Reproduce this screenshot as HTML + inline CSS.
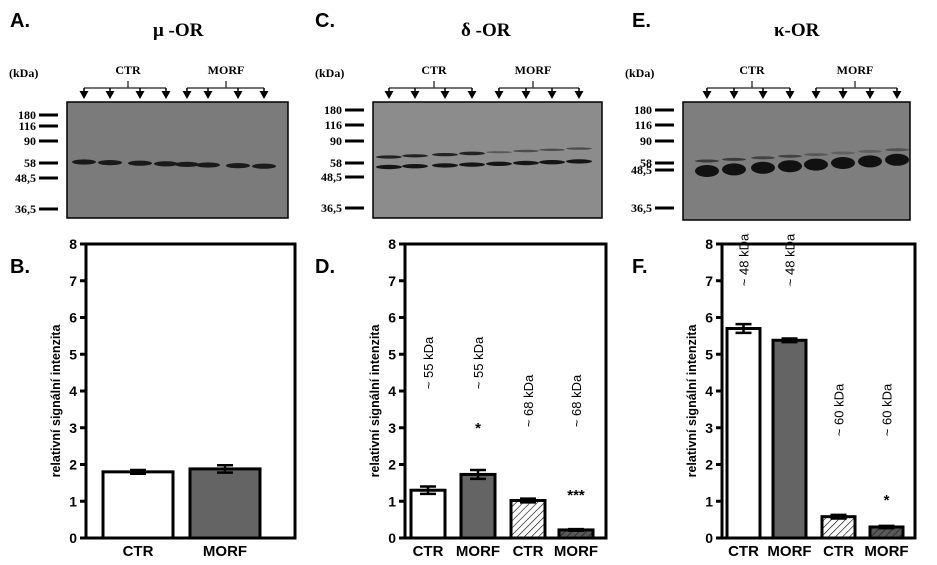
<!DOCTYPE html>
<html><head><meta charset="utf-8"><style>
body{margin:0;background:#fff}
svg{display:block}
text{font-family:"Liberation Sans",sans-serif}
.serif{font-family:"Liberation Serif",serif;font-weight:bold}
</style></head><body>
<svg id="fig" width="937" height="565" viewBox="0 0 937 565">
<defs>
<pattern id="hatchW" patternUnits="userSpaceOnUse" width="5" height="5" patternTransform="rotate(45)"><rect width="5" height="5" fill="#fff"/><line x1="0" y1="0" x2="0" y2="5" stroke="#000" stroke-width="1.2"/></pattern>
<pattern id="hatchG" patternUnits="userSpaceOnUse" width="5" height="5" patternTransform="rotate(45)"><rect width="5" height="5" fill="#5a5a5a"/><line x1="0" y1="0" x2="0" y2="5" stroke="#222" stroke-width="1.5"/></pattern>
</defs>
</svg>
<script>
// Panel B (mu-OR)
const catsB = ["CTR","MORF"];
const valsB = [1.8, 1.88];
const errsB = [0.05, 0.1];
// Panel D (delta-OR)
const catsD = ["CTR","MORF","CTR","MORF"];
const valsD = [1.3, 1.73, 1.02, 0.22];
const errsD = [0.1, 0.12, 0.05, 0.02];
// Panel F (kappa-OR)
const catsF = ["CTR","MORF","CTR","MORF"];
const valsF = [5.7, 5.38, 0.58, 0.3];
const errsF = [0.12, 0.05, 0.05, 0.03];
const yTicks = [0,1,2,3,4,5,6,7,8];
const ladderLabels = ["180","116","90","58","48,5","36,5"];

const NS="http://www.w3.org/2000/svg";
const svg=document.getElementById('fig');
function mk(tag,attrs,parent,txt){const e=document.createElementNS(NS,tag);for(const k in attrs)e.setAttribute(k,attrs[k]);if(txt!==undefined)e.textContent=txt;(parent||svg).appendChild(e);return e;}

function chart(id,x0,x1,barX,barW,cats,vals,errs,fills,annots,stars){
  const y0=538,yTop=244;
  const yS=v=>y0-(v/8)*(y0-yTop);
  const g=mk('g',{});
  
  
  vals.forEach((v,i)=>{
    const b=mk('rect',{x:barX[i],y:yS(v),width:barW,height:y0-yS(v),fill:fills[i],stroke:'#000','stroke-width':3},g);
    
    
    const cx=barX[i]+barW/2;
    const e=mk('path',{d:`M${cx},${yS(v+errs[i])}V${yS(v-errs[i])}M${cx-8},${yS(v+errs[i])}H${cx+8}M${cx-8},${yS(v-errs[i])}H${cx+8}`,stroke:'#000','stroke-width':2.5,fill:'none'},g);
    
    
    const l=mk('text',{x:cx,y:556,'text-anchor':'middle','font-size':15,'font-weight':'bold'},g,cats[i]);
    
    
  });
  const ax=mk('rect',{x:x0,y:yTop,width:x1-x0,height:y0-yTop,fill:'none',stroke:'#000','stroke-width':3},g);
  
  
  yTicks.forEach(t=>{
    mk('line',{x1:x0-6,x2:x0,y1:yS(t),y2:yS(t),stroke:'#000','stroke-width':3},g);
    const tl=mk('text',{x:x0-9,y:yS(t)+5,'text-anchor':'end','font-size':14,'font-weight':'bold'},g,t);
    
    
  });
  const yt=mk('text',{x:0,y:0,transform:`translate(${x0-26},${(y0+yTop)/2+10}) rotate(-90)`,'text-anchor':'middle','font-size':12.5,'font-weight':'bold'},g,'relativní signální intenzita');
  
  
  annots.forEach(a=>{
    const t=mk('text',{transform:`translate(${barX[a[0]]+barW/2+5},${a[1]}) rotate(-90)`,'text-anchor':'middle','font-size':13},g,a[2]);
    
    
  });
  stars.forEach(s=>{
    const t=mk('text',{x:barX[s[0]]+barW/2,y:s[1],'text-anchor':'middle','font-size':15,'font-weight':'bold'},g,s[2]);
    
    
  });
}

function blot(id,bx,by,bw,bh,fill,ladderY,lanes,bandSets,title,titleX,letter,letterX,ctrX,morfX){
  const g=mk('g',{});
  
  
  const L=mk('text',{x:letterX,y:27,'font-size':20,'font-weight':'bold'},g,letter);
  
  
  const T=mk('text',{x:titleX,y:36,'font-size':19,'class':'serif'},g,title);
  
  
  const k=mk('text',{x:bx-58,y:77,'font-size':12,'class':'serif'},g,'(kDa)');
  
  
  mk('text',{x:ctrX,y:74,'text-anchor':'middle','font-size':12,'class':'serif'},g,'CTR');
  mk('text',{x:morfX,y:74,'text-anchor':'middle','font-size':12,'class':'serif'},g,'MORF');
  [[0,4,ctrX],[4,8,morfX]].forEach(([a,b,c])=>{
    mk('path',{d:`M${lanes[a]},88H${lanes[b-1]}M${c},81V88`,stroke:'#444','stroke-width':1.5,fill:'none'},g);
    for(let i=a;i<b;i++){
      mk('line',{x1:lanes[i],x2:lanes[i],y1:88,y2:92,stroke:'#000','stroke-width':1.5},g);
      mk('path',{d:`M${lanes[i]-4.5},91L${lanes[i]+4.5},91L${lanes[i]},99Z`,fill:'#000'},g);
    }
  });
  const r=mk('rect',{x:bx,y:by,width:bw,height:bh,fill:fill,stroke:'#000','stroke-width':1.5},g);
  
  
  ladderLabels.forEach((l,i)=>{
    mk('line',{x1:bx-28,x2:bx-9,y1:ladderY[i],y2:ladderY[i],stroke:'#000','stroke-width':3},g);
    mk('text',{x:bx-31,y:ladderY[i]+4,'text-anchor':'end','font-size':12,'class':'serif'},g,l);
  });
  bandSets.forEach(bs=>{
    lanes.forEach((lx,i)=>{
      const b=mk('ellipse',{cx:lx,cy:bs.y0+bs.dy*i,rx:bs.rx,ry:bs.ry[i]!==undefined?bs.ry[i]:bs.ry,fill:bs.c,opacity:bs.op?bs.op[i]:1},g);
      
      
    });
  });
}

blot('mu',67,102,221,116,'#7b7b7b',[115,126,141,163,178,209],[84,110,140,166,187,208,238,264],
 [{y0:162,dy:0.6,rx:12,ry:2.6,c:'#1a1a1a'}],'μ -OR',153,'A.',10,128,226);
blot('delta',373,102,229,116,'#8c8c8c',[110,125,141,163,177,208],[389,415,445,472,499,526,552,579],
 [{y0:157,dy:-1.2,rx:13,ry:[1.6,1.6,1.6,1.8,1,1.2,1.2,1.2],c:'#222',op:[1,1,1,1,0.5,0.6,0.6,0.6]},{y0:167,dy:-0.8,rx:13,ry:2.2,c:'#151515'}],'δ -OR',461,'C.',315,434,533);
blot('kappa',683,102,227,118,'#7e7e7e',[110,125,141,163,170,208],[707,734,763,790,816,843,870,897],
 [{y0:161,dy:-1.6,rx:12,ry:1.5,c:'#333',op:[0.9,0.9,0.8,0.8,0.5,0.4,0.4,0.6]},{y0:171,dy:-1.6,rx:12,ry:6,c:'#111'}],'κ-OR',774,'E.',632,752,855);

chart('B',86,295,[103,190],[70][0],catsB,valsB,errsB,['#fff','#646464'],[],[]);
mk('text',{x:10,y:273,'font-size':20,'font-weight':'bold'},svg,'B.');
chart('D',405,606,[411,461,511,559],34,catsD,valsD,errsD,['#fff','#646464','url(#hatchW)','url(#hatchG)'],
 [[0,363,'~ 55 kDa'],[1,363,'~ 55 kDa'],[2,401,'~ 68 kDa'],[3,401,'~ 68 kDa']],[[1,433,'*'],[3,500,'***']]);
mk('text',{x:315,y:273,'font-size':20,'font-weight':'bold'},svg,'D.');
chart('F',722,915,[727,773,822,870],33,catsF,valsF,errsF,['#fff','#646464','url(#hatchW)','url(#hatchG)'],
 [[0,260,'~ 48 kDa'],[1,260,'~ 48 kDa'],[2,410,'~ 60 kDa'],[3,410,'~ 60 kDa']],[[3,505,'*']]);
mk('text',{x:632,y:273,'font-size':20,'font-weight':'bold'},svg,'F.');
</script>
</body></html>
